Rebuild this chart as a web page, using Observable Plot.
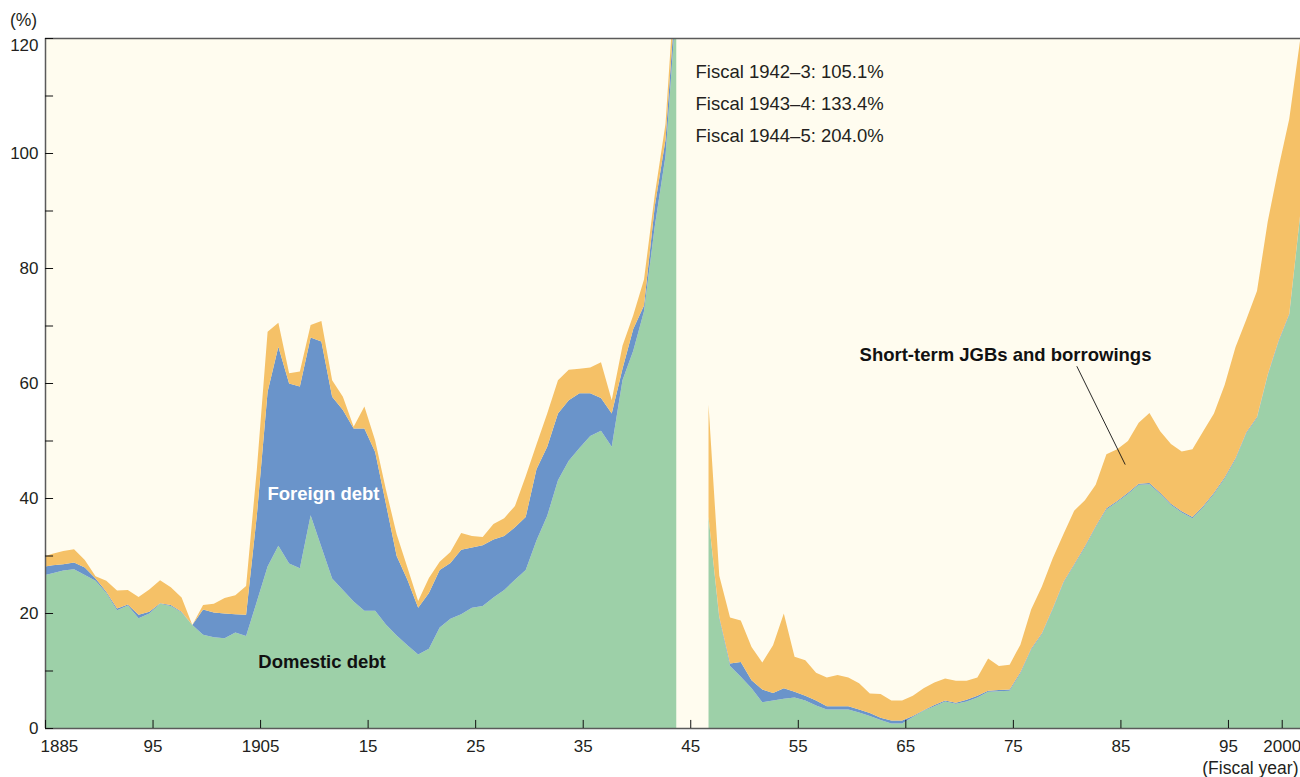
<!DOCTYPE html>
<html>
<head>
<meta charset="utf-8">
<script src="https://cdn.jsdelivr.net/npm/d3@7"></script>
<script src="https://cdn.jsdelivr.net/npm/@observablehq/plot@0.6"></script>
<style>
  html, body { margin: 0; padding: 0; background: #ffffff; }
  #chart svg { display: block; }
</style>
</head>
<body>
<div id="chart"></div>
<script>
// ---------- DATA ----------
// Pre-war fiscal years 1884–1943
const prewarYears = [1884,1885,1886,1887,1888,1889,1890,1891,1892,1893,1894,1895,1896,1897,1898,1899,
  1900,1901,1902,1903,1904,1905,1906,1907,1908,1909,1910,1911,1912,1913,1914,1915,1916,1917,1918,1919,
  1920,1921,1922,1923,1924,1925,1926,1927,1928,1929,1930,1931,1932,1933,1934,1935,1936,1937,1938,1939,
  1940,1941,1942,1943];
const prewarDomestic = [26.5,26.9,27.4,27.6,26.6,25.6,23.5,20.5,21.3,19.1,19.9,21.6,21.2,20.1,17.9,16.2,
  15.8,15.6,16.6,16.0,22.0,28.1,31.7,28.6,27.8,37.0,31.5,26.0,24.0,22.0,20.4,20.4,18.0,16.1,14.4,12.8,
  13.8,17.5,19.0,19.8,20.9,21.2,22.7,24.0,25.8,27.5,32.6,36.9,43.1,46.5,48.7,50.8,51.7,48.9,60.5,65.6,
  72.5,87.2,99.5,126.0];
const prewarForeign = [1.5,1.4,1.1,1.2,1.3,0.4,0.2,0.3,0.2,0.6,0.3,0.1,0.2,0.1,0.0,4.4,
  4.3,4.3,3.2,3.7,15.0,30.4,34.6,31.3,31.6,30.9,35.7,31.6,31.3,30.1,31.7,27.6,21.0,13.8,11.4,8.1,
  9.7,10.0,9.7,11.2,10.5,10.6,10.1,9.4,9.1,9.2,12.4,12.0,11.6,10.5,9.5,7.4,5.7,5.8,2.0,3.8,
  1.0,3.5,2.8,3.0];
const prewarShort = [1.7,2.0,2.3,2.3,1.3,0.4,1.9,3.1,2.5,3.1,3.9,4.0,3.1,2.5,0.0,0.8,
  1.5,2.7,3.3,5.0,8.0,10.4,4.2,1.8,2.6,2.2,3.6,2.9,2.3,0.3,3.8,2.0,2.5,3.8,2.1,1.2,
  2.6,1.4,1.9,2.9,2.0,1.4,2.7,3.1,3.7,7.1,4.3,5.8,5.8,5.3,4.3,4.5,6.2,2.3,4.0,2.4,
  4.5,2.0,2.8,4.4];

// Post-war fiscal years 1946–2001
const postwarYears = [1946,1947,1948,1949,1950,1951,1952,1953,1954,1955,1956,1957,1958,1959,1960,1961,
  1962,1963,1964,1965,1966,1967,1968,1969,1970,1971,1972,1973,1974,1975,1976,1977,1978,1979,1980,1981,
  1982,1983,1984,1985,1986,1987,1988,1989,1990,1991,1992,1993,1994,1995,1996,1997,1998,1999,2000,2001];
const postwarDomestic = [36.7,19.0,10.8,8.9,6.9,4.5,4.8,5.1,5.3,4.8,3.9,3.2,3.2,3.2,2.7,2.1,
  1.4,0.8,0.8,1.9,3.0,3.8,4.6,4.2,4.6,5.3,6.3,6.4,6.5,9.5,13.6,16.3,20.6,25.2,28.3,31.4,
  34.9,38.0,39.3,40.7,42.3,42.4,40.7,38.8,37.5,36.5,38.4,40.7,43.4,46.7,51.2,53.9,61.3,67.1,71.8,88.8];
const postwarForeign = [0.0,0.3,0.4,2.6,1.4,2.2,1.3,1.8,1.0,0.8,0.9,0.6,0.6,0.6,0.5,0.5,
  0.4,0.5,0.5,0.2,0.1,0.2,0.2,0.2,0.3,0.3,0.2,0.2,0.2,0.2,0.2,0.2,0.2,0.2,0.2,0.2,
  0.2,0.2,0.2,0.2,0.2,0.2,0.2,0.2,0.2,0.2,0.2,0.2,0.2,0.2,0.2,0.2,0.2,0.2,0.2,0.2];
const postwarShort = [19.5,7.2,8.0,7.2,5.8,4.7,8.3,13.0,6.1,6.2,4.8,5.0,5.4,5.0,4.6,3.4,
  4.1,3.5,3.5,3.5,3.8,3.9,3.8,3.8,3.3,3.2,5.6,4.2,4.3,4.8,6.8,8.1,8.7,8.3,9.3,8.0,
  7.2,9.4,9.0,9.0,10.6,12.2,10.7,10.4,10.4,11.8,13.0,13.8,16.1,19.3,19.6,21.9,26.6,30.1,33.9,30.5];

const seriesNames = ["Domestic debt", "Foreign debt", "Short-term JGBs and borrowings"];
const seriesColors = ["#9DD0A8", "#6A94CA", "#F5C167"];

const yMajorTicks = [0, 20, 40, 60, 80, 100];
const yTopTick = [120];
const yMinorTicks = [10, 30, 50, 70, 90, 110];
const xTicks = [1895, 1905, 1915, 1925, 1935, 1945, 1955, 1965, 1975, 1985, 1995, 2000];
const xTickLabels = ["95", "1905", "15", "25", "35", "45", "55", "65", "75", "85", "95", "2000"];
const xFirstTick = [1885];
const xFirstLabel = ["1885"];

const fiscalLabels = ["Fiscal 1942–3", "Fiscal 1943–4", "Fiscal 1944–5"];
const fiscalValues = [105.1, 133.4, 204.0];

// ---------- BUILD ----------
function toLong(years, dom, forn, shrt) {
  return years.flatMap((y, i) => [
    {year: y, series: seriesNames[0], value: dom[i]},
    {year: y, series: seriesNames[1], value: forn[i]},
    {year: y, series: seriesNames[2], value: shrt[i]}
  ]);
}
const prewar = toLong(prewarYears, prewarDomestic, prewarForeign, prewarShort);
const postwar = toLong(postwarYears, postwarDomestic, postwarForeign, postwarShort);

// fiscal year plotted at its end (March of following year)
const xPos = d => d.year + 0.7;
const FONT = "'Liberation Sans', Arial, Helvetica, sans-serif";
const INK = "#231f20";
const AXIS = "#5a5a5a";

const fiscalMarks = fiscalLabels.map((l, i) =>
  Plot.text([`${l}: ${fiscalValues[i].toFixed(1)}%`], {
    frameAnchor: "top-left", textAnchor: "start", lineAnchor: "middle",
    dx: 650, dy: 34 + 32 * i, fontSize: 18.5, fill: INK
  })
);

const chart = Plot.plot({
  width: 1300,
  height: 777,
  marginLeft: 45,
  marginRight: 0,
  marginTop: 38,
  marginBottom: 49,
  style: {fontFamily: FONT, fontSize: "17px", color: INK, background: "#ffffff", overflow: "visible"},
  x: {domain: [1885, 2001.7], axis: null},
  y: {domain: [0, 120], axis: null},
  color: {domain: seriesNames, range: seriesColors},
  marks: [
    Plot.frame({fill: "#FFFCEF", stroke: null}),
    Plot.areaY(prewar, Plot.stackY({x: xPos, y: "value", fill: "series", curve: "linear", clip: true})),
    Plot.areaY(postwar, Plot.stackY({x: xPos, y: "value", fill: "series", curve: "linear", clip: true})),
    // frame lines
    Plot.ruleY(yTopTick, {stroke: AXIS, strokeWidth: 1.5}),
    Plot.ruleY([0], {stroke: AXIS, strokeWidth: 1.5}),
    Plot.ruleX(xFirstTick, {stroke: AXIS, strokeWidth: 1.5}),
    // inward ticks
    Plot.ruleY([...yMajorTicks, ...yTopTick, ...yMinorTicks], {y: d => d, x1: 1885, x2: 1885.75, stroke: "#111", strokeWidth: 1}),
    Plot.ruleX([...xFirstTick, ...xTicks], {x: d => d, y1: 0, y2: 1.4, stroke: "#111", strokeWidth: 1}),
    // y tick labels
    Plot.text(yMajorTicks, {x: 1885, y: d => d, text: d => String(d), textAnchor: "end", lineAnchor: "middle", dx: -7, fontSize: 17, fill: INK}),
    Plot.text(yTopTick, {x: 1885, y: d => d, text: d => String(d), textAnchor: "end", lineAnchor: "middle", dx: -7, dy: 7, fontSize: 17, fill: INK}),
    // x tick labels
    Plot.text(xTicks, {x: d => d, y: 0, text: (d, i) => xTickLabels[i], lineAnchor: "middle", dy: 18, fontSize: 17, fill: INK}),
    Plot.text(xFirstTick, {x: d => d, y: 0, text: (d, i) => xFirstLabel[i], textAnchor: "start", lineAnchor: "middle", dx: -5, dy: 18, fontSize: 17, fill: INK}),
    // axis titles
    Plot.text(["(%)"], {frameAnchor: "top-left", textAnchor: "middle", lineAnchor: "middle", dx: -22, dy: -18, fontSize: 17.5, fill: INK}),
    Plot.text(["(Fiscal year)"], {frameAnchor: "bottom-right", textAnchor: "end", lineAnchor: "middle", dx: -2, dy: 40, fontSize: 17.5, fill: INK}),
    // series labels
    Plot.text([seriesNames[1]], {frameAnchor: "top-left", textAnchor: "middle", lineAnchor: "middle", dx: 278, dy: 456, fontSize: 18.5, fontWeight: "bold", fill: "#ffffff"}),
    Plot.text([seriesNames[0]], {frameAnchor: "top-left", textAnchor: "middle", lineAnchor: "middle", dx: 276.5, dy: 624, fontSize: 18.5, fontWeight: "bold", fill: "#111"}),
    Plot.text([seriesNames[2]], {frameAnchor: "top-left", textAnchor: "middle", lineAnchor: "middle", dx: 960, dy: 317, fontSize: 18.5, fontWeight: "bold", fill: "#111"}),
    Plot.link([0], {x1: 1980.9, y1: 63.0, x2: 1985.4, y2: 45.9, stroke: "#111", strokeWidth: 0.9}),
    // off-scale war-time values
    ...fiscalMarks
  ]
});
document.getElementById("chart").appendChild(chart);
</script>
</body>
</html>
